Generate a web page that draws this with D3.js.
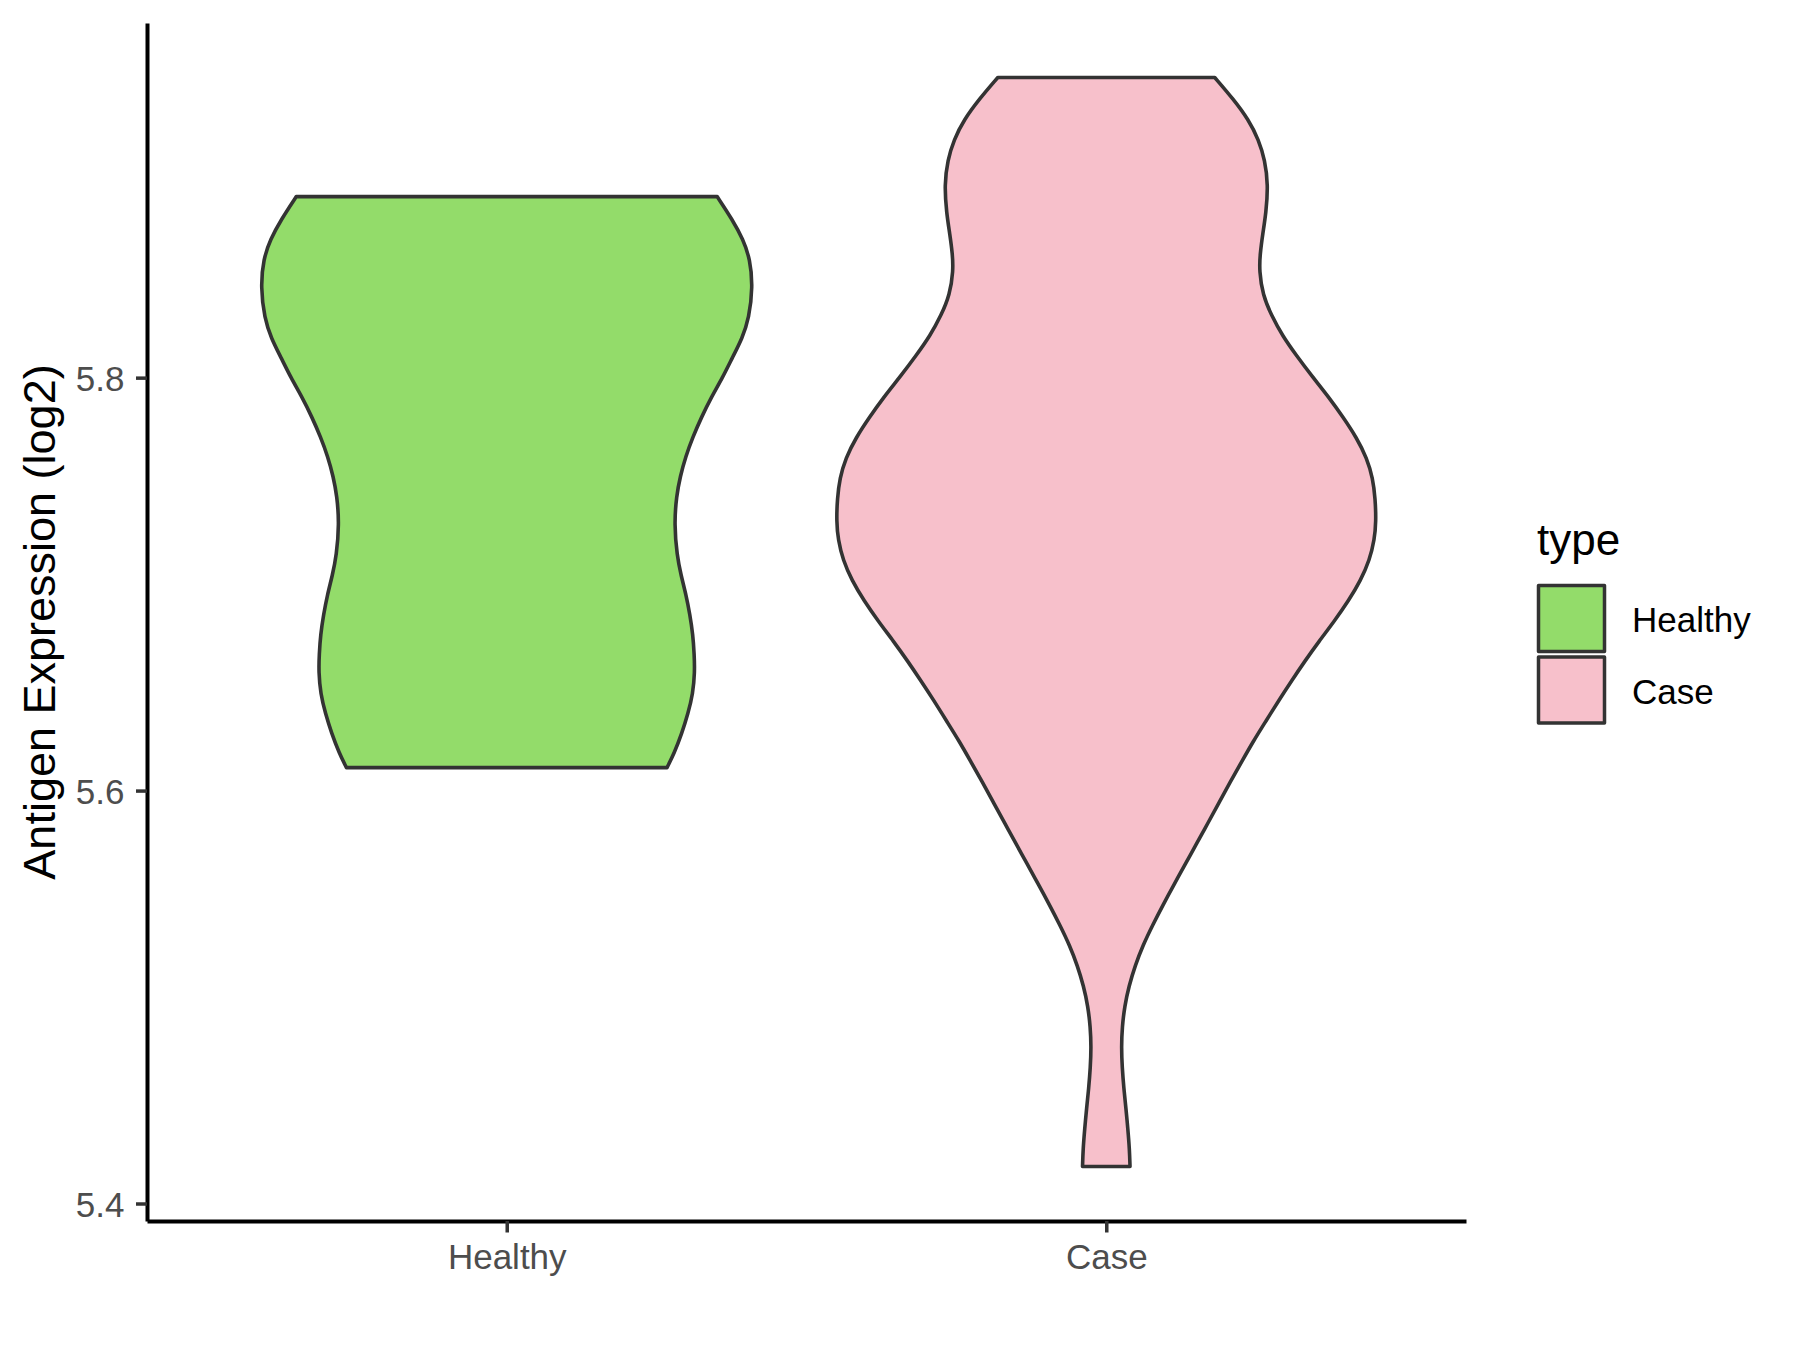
<!DOCTYPE html>
<html>
<head>
<meta charset="utf-8">
<script src="https://cdn.jsdelivr.net/npm/d3@7"></script>
<style>
	body { margin: 0; background: white; }
	text { font-family: "Liberation Sans", Arial, sans-serif; }
</style>
</head>
<body>
<div id="chart"></div>
<script>
/*
 * violin of antigen expression, healthy vs case
 */

var WIDTH = 1800;
var HEIGHT = 1350;
var PANEL_LEFT = 147;
var PANEL_RIGHT = 1466;
var PANEL_TOP = 23;
var PANEL_BOTTOM = 1221;
var VIOLIN_WIDTH = 0.9;
var OUTLINE = "#333333";

var categories = ["Healthy", "Case"];
var fillColors = ["#93DC6A", "#F7C0CB"];
var yTicks = [5.4, 5.6, 5.8];

// outline of each violin: expression value and relative density (1 = widest)
var healthyValues = [5.8877, 5.8766, 5.8670, 5.8574, 5.8440, 5.8287, 5.8191, 5.8096, 5.8000, 5.7904,
	5.7809, 5.7713, 5.7617, 5.7521, 5.7426, 5.7292, 5.7139, 5.7043, 5.6947, 5.6852,
	5.6756, 5.6660, 5.6574, 5.6469, 5.6373, 5.6277, 5.6182, 5.6111];
var healthyDensity = [0.780, 0.836, 0.876, 0.902, 0.912, 0.898, 0.873, 0.836, 0.800, 0.758,
	0.722, 0.690, 0.663, 0.643, 0.629, 0.621, 0.631, 0.646, 0.665, 0.679,
	0.690, 0.695, 0.697, 0.690, 0.672, 0.649, 0.621, 0.594];

var caseValues = [5.9454, 5.9349, 5.9250, 5.9152, 5.9053, 5.8934, 5.8796, 5.8697, 5.8598, 5.8519,
	5.8401, 5.8302, 5.8203, 5.8105, 5.8006, 5.7907, 5.7808, 5.7709, 5.7610, 5.7512,
	5.7413, 5.7304, 5.7215, 5.7117, 5.7018, 5.6919, 5.6820, 5.6722, 5.6629, 5.6532,
	5.6436, 5.6337, 5.6239, 5.6140, 5.6041, 5.5942, 5.5843, 5.5744, 5.5646, 5.5547,
	5.5448, 5.5349, 5.5251, 5.5152, 5.5053, 5.4955, 5.4856, 5.4757, 5.4658, 5.4559,
	5.4460, 5.4362, 5.4263, 5.4179];
var caseDensity = [0.402, 0.471, 0.527, 0.565, 0.588, 0.600, 0.592, 0.580, 0.570, 0.567,
	0.580, 0.612, 0.653, 0.706, 0.763, 0.824, 0.878, 0.928, 0.966, 0.988,
	0.997, 1.000, 0.994, 0.976, 0.943, 0.898, 0.845, 0.788, 0.737, 0.687,
	0.639, 0.592, 0.545, 0.502, 0.459, 0.418, 0.377, 0.335, 0.294, 0.252,
	0.211, 0.172, 0.136, 0.107, 0.084, 0.068, 0.059, 0.056, 0.059, 0.065,
	0.073, 0.080, 0.086, 0.088];

var groups = [
	{ name: categories[0], fill: fillColors[0], values: healthyValues, density: healthyDensity },
	{ name: categories[1], fill: fillColors[1], values: caseValues, density: caseDensity }
];

var svg = d3.select("#chart").append("svg")
	.attr("width", WIDTH)
	.attr("height", HEIGHT)
	.style("display", "block");

svg.append("rect")
	.attr("width", WIDTH)
	.attr("height", HEIGHT)
	.attr("fill", "white");

// y range: data extent plus 5% each side, like ggplot
var allValues = healthyValues.concat(caseValues);
var yMin = d3.min(allValues);
var yMax = d3.max(allValues);
var pad = (yMax - yMin) * 0.05;

var y = d3.scaleLinear()
	.domain([yMin - pad, yMax + pad])
	.range([PANEL_BOTTOM, PANEL_TOP]);

var x = d3.scalePoint()
	.domain(categories)
	.range([PANEL_LEFT, PANEL_RIGHT])
	.padding(0.6);

var maxHalf = x.step() * VIOLIN_WIDTH / 2;

function violinPoints(g) {
	var pts = [];
	for (var i = 0; i < g.values.length; i++) {
		pts.push({ v: g.values[i], d: g.density[i] });
	}
	return pts;
}

groups.forEach(function(g) {
	var cx = x(g.name);
	var area = d3.area()
		.y(function(p) { return y(p.v); })
		.x0(function(p) { return cx - p.d * maxHalf; })
		.x1(function(p) { return cx + p.d * maxHalf; })
		.curve(d3.curveBasis);

	svg.append("path")
		.datum(violinPoints(g))
		.attr("d", area)
		.attr("fill", g.fill)
		.attr("stroke", OUTLINE)
		.attr("stroke-width", 3.6)
		.attr("stroke-linejoin", "round");
});

// axes
var yAxis = d3.axisLeft(y)
	.tickValues(yTicks)
	.tickFormat(d3.format(".1f"))
	.tickSize(11)
	.tickSizeOuter(0)
	.tickPadding(11.5);

var gy = svg.append("g")
	.attr("transform", "translate(" + PANEL_LEFT + ",0)")
	.call(yAxis);

var xAxis = d3.axisBottom(x)
	.tickSize(11.5)
	.tickSizeOuter(0);

var gx = svg.append("g")
	.attr("transform", "translate(0," + PANEL_BOTTOM + ")")
	.call(xAxis);

[gx, gy].forEach(function(g) {
	g.select(".domain")
		.attr("stroke", "black")
		.attr("stroke-width", 4);
	g.selectAll(".tick line")
		.attr("stroke", OUTLINE)
		.attr("stroke-width", 3.5);
	g.selectAll(".tick text")
		.attr("fill", "#4D4D4D")
		.style("font-size", "35px");
});

gy.selectAll(".tick text").attr("dy", "0.36em");
gx.selectAll(".tick text").attr("y", 48).attr("dy", 0);

// y axis title
svg.append("text")
	.attr("transform", "translate(55," + ((PANEL_TOP + PANEL_BOTTOM) / 2) + ") rotate(-90)")
	.attr("text-anchor", "middle")
	.style("font-size", "45px")
	.attr("fill", "black")
	.text("Antigen Expression (log2)");

// legend
var legend = svg.append("g")
	.attr("transform", "translate(1537,0)");

legend.append("text")
	.attr("x", 0)
	.attr("y", 555)
	.style("font-size", "44px")
	.attr("fill", "black")
	.text("type");

var KEY_TOP = 584;
var KEY = 71.5;

groups.forEach(function(g, i) {
	legend.append("rect")
		.attr("x", 1.5)
		.attr("y", KEY_TOP + i * KEY + 1.5)
		.attr("width", 66)
		.attr("height", 66)
		.attr("fill", g.fill)
		.attr("stroke", OUTLINE)
		.attr("stroke-width", 3.5)
		.attr("stroke-linejoin", "round");

	legend.append("text")
		.attr("x", 95)
		.attr("y", KEY_TOP + i * KEY + KEY / 2 + 12.5)
		.style("font-size", "35px")
		.attr("fill", "black")
		.text(g.name);
});
</script>
</body>
</html>
